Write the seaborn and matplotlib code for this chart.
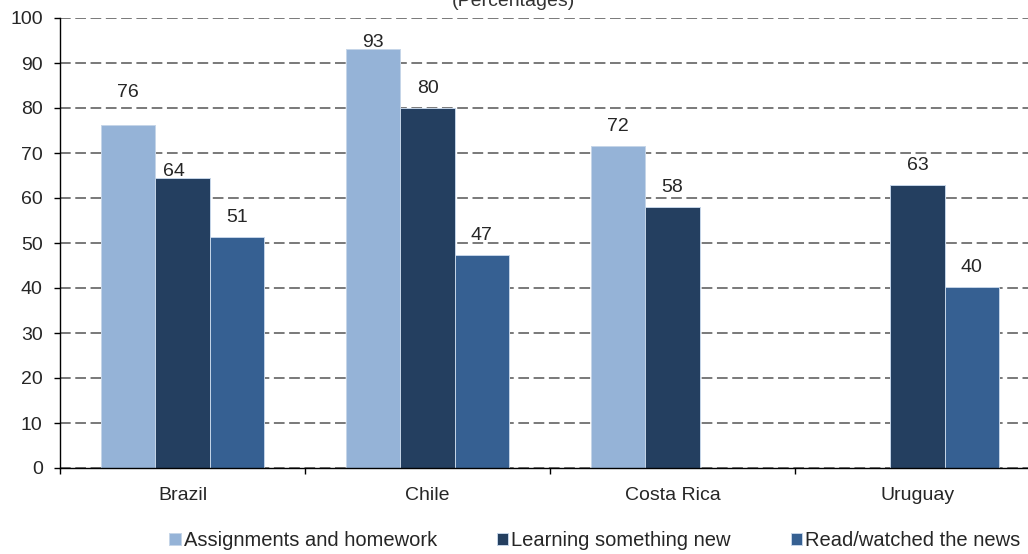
import pandas as pd
import numpy as np
import matplotlib
matplotlib.use('Agg')
import matplotlib.pyplot as plt
import seaborn as sns

# Data
countries = ['Brazil', 'Chile', 'Costa Rica', 'Uruguay']
series = ['Assignments and homework', 'Learning something new', 'Read/watched the news']
assignments = [76.3, 93.2, 71.5, np.nan]
learning = [64.4, 80.0, 58.0, 62.8]
news = [51.4, 47.3, np.nan, 40.3]
colors = ['#95B3D7', '#243F60', '#366092']

df = pd.DataFrame({
    'Country': countries * 3,
    'Activity': [series[0]] * 4 + [series[1]] * 4 + [series[2]] * 4,
    'Value': assignments + learning + news,
})

sns.set_style('white')
plt.rcParams['font.family'] = ['Liberation Sans', 'DejaVu Sans']

fig = plt.figure(figsize=(10.28, 5.54), dpi=100)
# axes runs a bit past the right edge of the figure, like the source
ax = fig.add_axes([60 / 1028, 1 - 468 / 554, 980 / 1028, 450 / 554])

sns.barplot(data=df, x='Country', y='Value', hue='Activity', order=countries,
            hue_order=series, palette=colors, saturation=1, width=0.665, gap=0,
            edgecolor='#c5d5e8', linewidth=0.7, ax=ax, legend=True)

# Value labels (a few nudged like in the original)
nudge = {'76': (0, 17), '64': (-6, -1.5), '93': (0, -1.5)}
for container in ax.containers:
    for lab in ax.bar_label(container, fmt='%.0f', padding=8, fontsize=14):
        if lab.get_text() in nudge:
            lab.xyann = nudge[lab.get_text()]

ax.set_ylim(0, 100)
ax.set_xlim(-0.5, 3.5)
ax.set_yticks(range(0, 101, 10))
ax.yaxis.grid(True, linestyle=(0, (7, 3)), color='#555555', linewidth=1.1)
ax.set_axisbelow(True)
ax.set_xlabel('')
ax.set_ylabel('')
for s in ['top', 'right']:
    ax.spines[s].set_visible(False)
for s in ['left', 'bottom']:
    ax.spines[s].set_color('black')
    ax.spines[s].set_linewidth(1.0)
ax.tick_params(axis='y', left=True, length=4.5, width=1, color='black', labelsize=14, pad=8)
ax.tick_params(axis='x', bottom=False, labelsize=14, pad=10)
ax.set_xticks(np.arange(-0.5, 4, 1), minor=True)
ax.tick_params(axis='x', which='minor', bottom=True, length=4, width=1, color='black')

ax.legend(loc='center', bbox_to_anchor=(535 / 980, -73 / 450), ncol=3, frameon=False,
          fontsize=14.5, handlelength=0.55, handleheight=0.55, handletextpad=0.15,
          columnspacing=3.0, borderpad=0)

fig.text(513 / 1028, 1 - 6 / 554, '(Percentages)', ha='center', va='baseline',
         fontsize=14, color='#333333')

fig.savefig('out.png', dpi=100)
